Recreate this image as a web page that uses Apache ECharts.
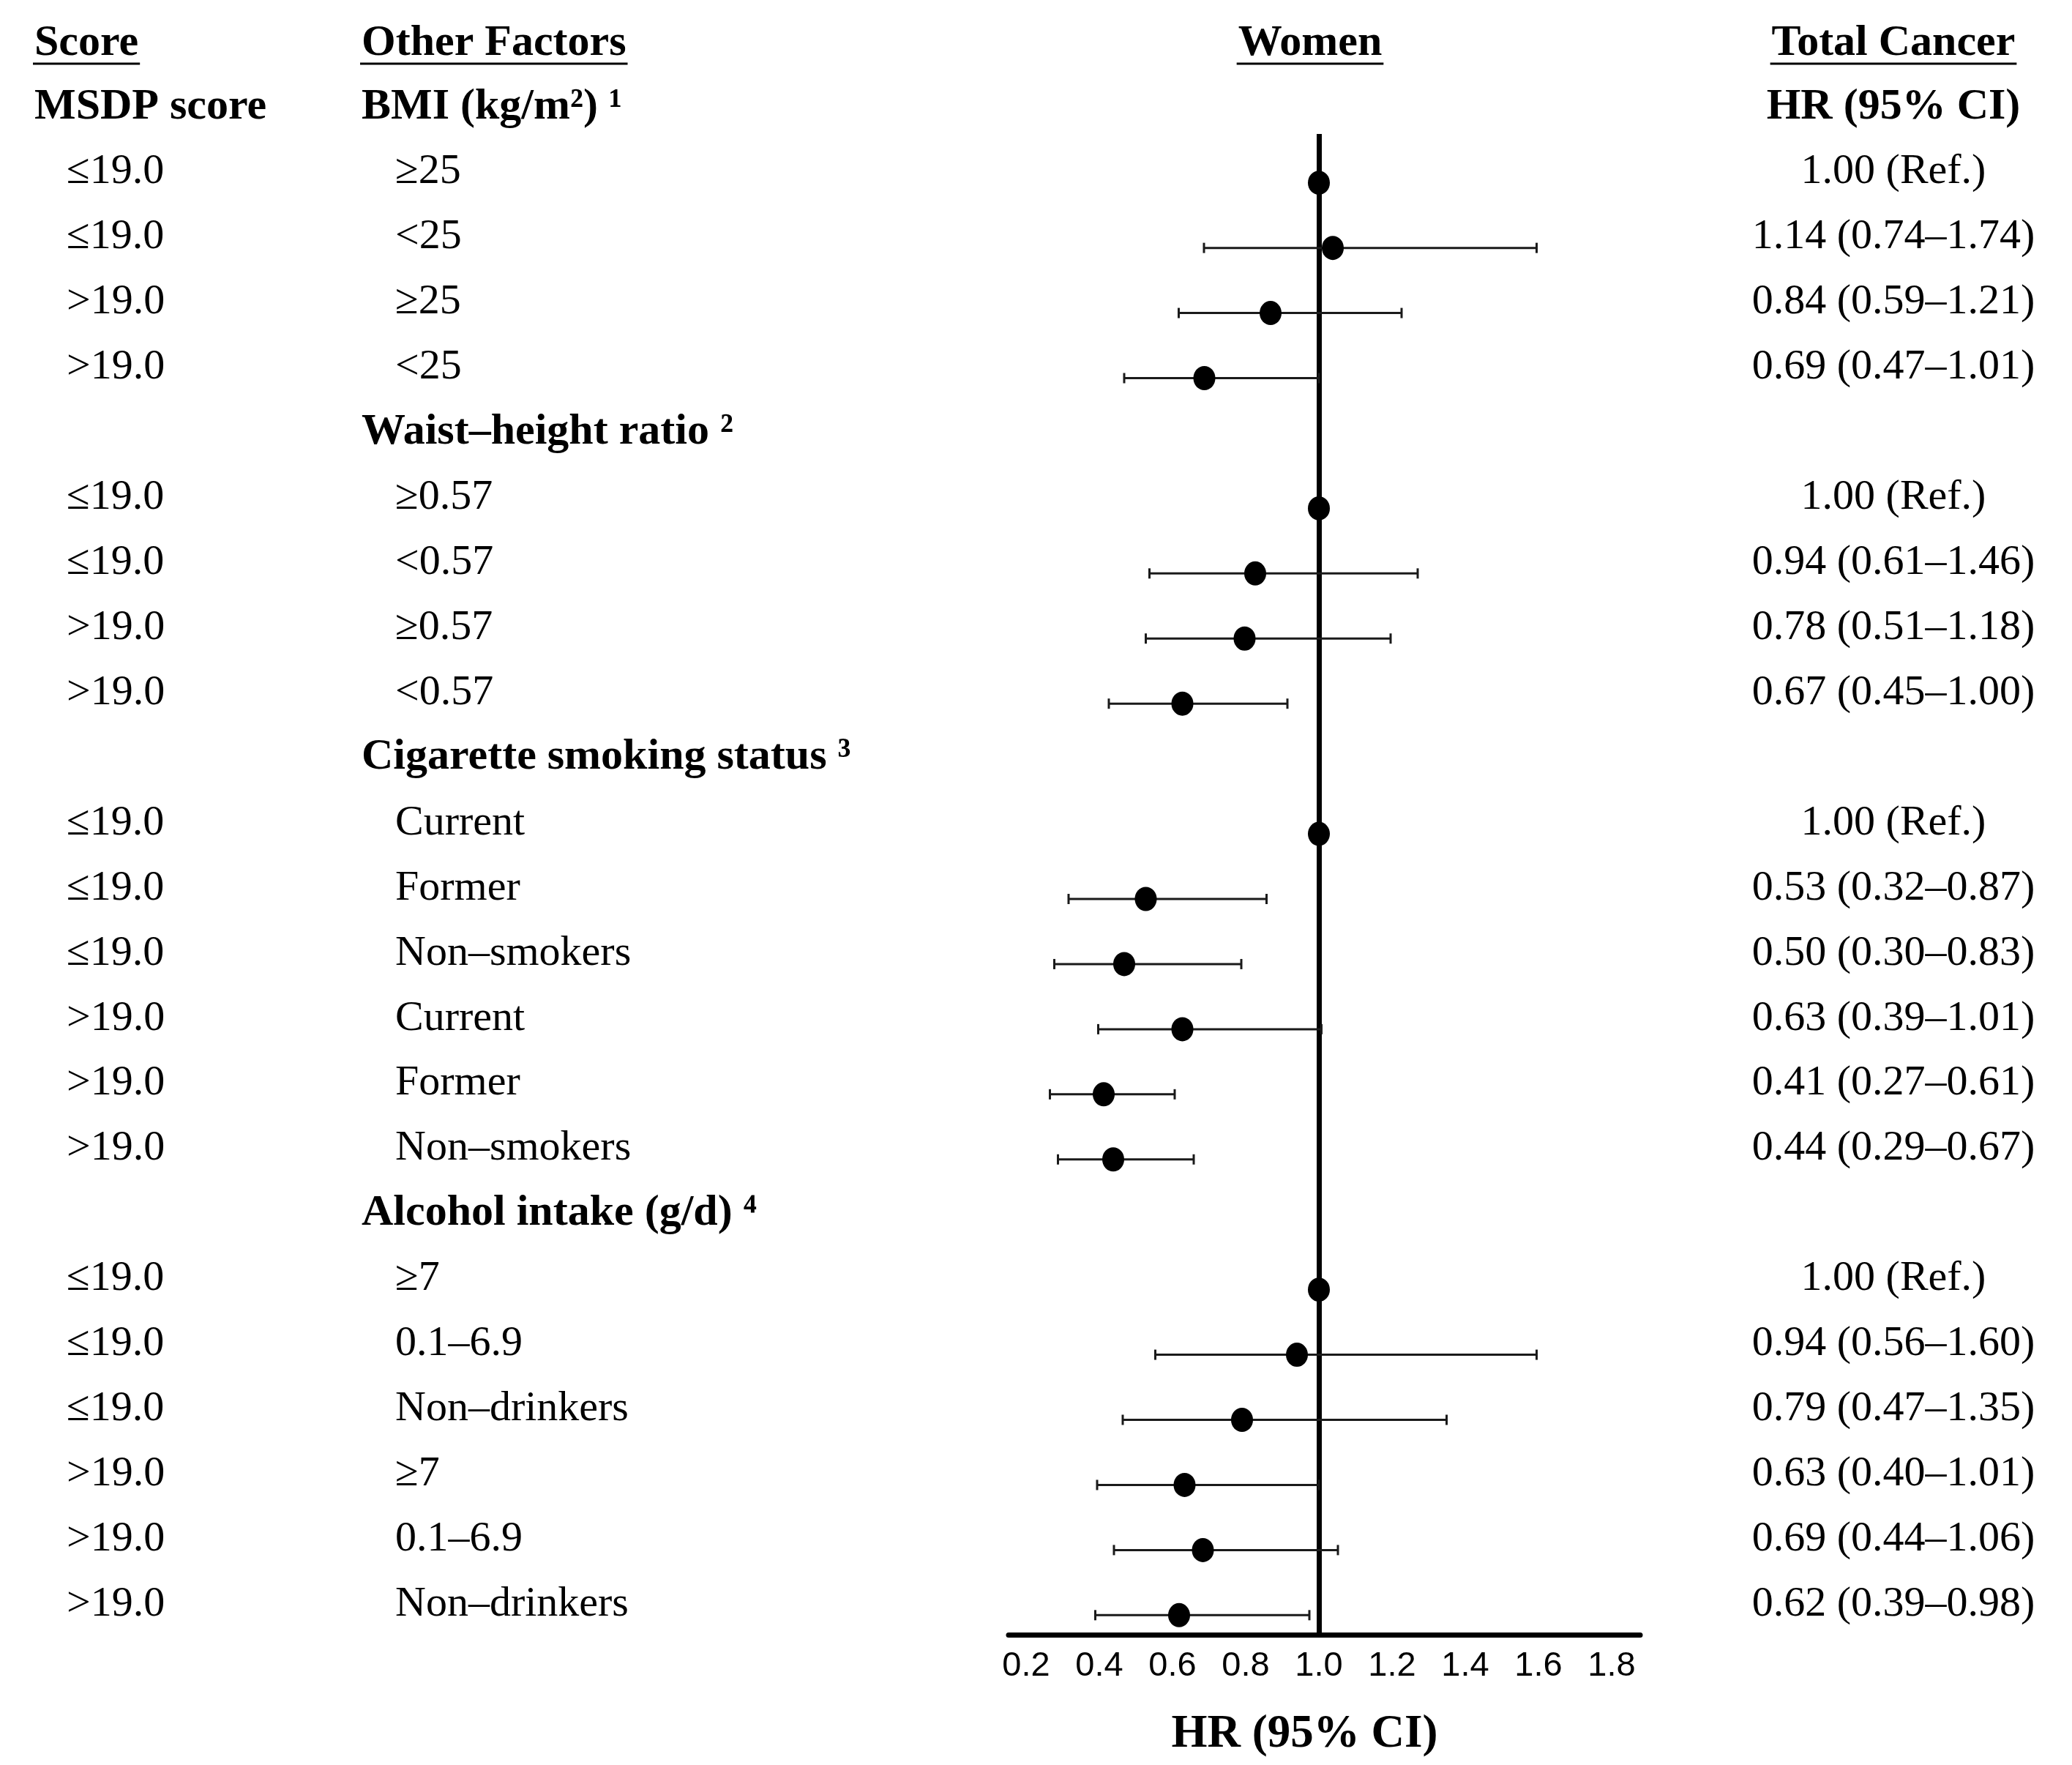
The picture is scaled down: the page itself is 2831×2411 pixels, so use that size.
<!DOCTYPE html>
<html>
<head>
<meta charset="utf-8">
<script src="https://cdn.jsdelivr.net/npm/echarts@6/dist/echarts.min.js"></script>
<style>
html,body{margin:0;padding:0;background:#fff;}
#c{width:2831px;height:2411px;}
</style>
</head>
<body>
<div id="c"></div>
<script>
// ---------- data ----------
const scoreLabels = ['≤19.0','≤19.0','>19.0','>19.0','',
  '≤19.0','≤19.0','>19.0','>19.0','',
  '≤19.0','≤19.0','≤19.0','>19.0','>19.0','>19.0','',
  '≤19.0','≤19.0','≤19.0','>19.0','>19.0','>19.0'];
const factorLabels = ['≥25','<25','≥25','<25','',
  '≥0.57','<0.57','≥0.57','<0.57','',
  'Current','Former','Non–smokers','Current','Former','Non–smokers','',
  '≥7','0.1–6.9','Non–drinkers','≥7','0.1–6.9','Non–drinkers'];
const groupRows = [-1, 4, 9, 16];
const groupNames = ['BMI (kg/m²) ¹', 'Waist–height ratio ²', 'Cigarette smoking status ³', 'Alcohol intake (g/d) ⁴'];
const hrText = ['1.00 (Ref.)','1.14 (0.74–1.74)','0.84 (0.59–1.21)','0.69 (0.47–1.01)','',
  '1.00 (Ref.)','0.94 (0.61–1.46)','0.78 (0.51–1.18)','0.67 (0.45–1.00)','',
  '1.00 (Ref.)','0.53 (0.32–0.87)','0.50 (0.30–0.83)','0.63 (0.39–1.01)','0.41 (0.27–0.61)','0.44 (0.29–0.67)','',
  '1.00 (Ref.)','0.94 (0.56–1.60)','0.79 (0.47–1.35)','0.63 (0.40–1.01)','0.69 (0.44–1.06)','0.62 (0.39–0.98)'];
// plotted positions
const hrPlot = [1.00,1.038,0.868,0.687,null,
  1.00,0.826,0.797,0.627,null,
  1.00,0.527,0.468,0.627,0.412,0.438,null,
  1.00,0.94,0.79,0.633,0.683,0.618];
const ciLow = [null,0.686,0.617,0.468,null,
  null,0.537,0.527,0.426,null,
  null,0.316,0.277,0.397,0.265,0.287,null,
  null,0.553,0.464,0.394,0.44,0.389];
const ciHigh = [null,1.595,1.226,1.0,null,
  null,1.27,1.196,0.914,null,
  null,0.857,0.788,1.007,0.606,0.658,null,
  null,1.595,1.349,1.0,1.052,0.974];
const xTicks = [0.2,0.4,0.6,0.8,1.0,1.2,1.4,1.6,1.8];
const headers = {score:'Score', factors:'Other Factors', panel:'Women', outcome:'Total Cancer',
  scoreSub:'MSDP score', outcomeSub:'HR (95% CI)', xName:'HR (95% CI)'};

// ---------- chart ----------
const SERIF = "'Liberation Serif','Times New Roman',serif";
const SANS = "'Liberation Sans',Arial,sans-serif";
const chart = echarts.init(document.getElementById('c'), null, {renderer:'canvas'});

const pointData = [], barData = [];
hrPlot.forEach((v,i)=>{ if(v!==null) pointData.push([v,i]); });
ciLow.forEach((v,i)=>{ if(v!==null) barData.push([v,ciHigh[i],i]); });

chart.setOption({
  animation:false,
  backgroundColor:'#fff',
  grid:{left:1378, top:183, width:863, height:2050, containLabel:false, outerBoundsMode:'none'},
  xAxis:{
    type:'value', min:0.152, max:1.878, position:'bottom',
    axisLine:{show:true, onZero:false, lineStyle:{color:'#000', width:7}},
    axisTick:{show:false},
    splitLine:{show:false},
    axisLabel:{customValues:xTicks, formatter:v=>v.toFixed(1), color:'#000', fontSize:47, fontFamily:SANS, margin:20},
    name:headers.xName, nameLocation:'middle', nameGap:105,
    nameTextStyle:{fontFamily:SERIF, fontWeight:'bold', fontSize:63, color:'#000', padding:[0,54,0,0]}
  },
  yAxis:{type:'value', min:-0.75, max:22.3, inverse:true, show:false},
  series:[
    {
      type:'custom', z:2, data:barData, encode:{x:[0,1], y:2},
      renderItem:(params, api)=>{
        const a = api.coord([api.value(0), api.value(2)]);
        const b = api.coord([api.value(1), api.value(2)]);
        const h = 7, st = {stroke:'#1a1a1a', lineWidth:3};
        return {type:'group', children:[
          {type:'line', shape:{x1:a[0],y1:a[1],x2:b[0],y2:b[1]}, style:st},
          {type:'line', shape:{x1:a[0],y1:a[1]-h,x2:a[0],y2:a[1]+h}, style:st},
          {type:'line', shape:{x1:b[0],y1:b[1]-h,x2:b[0],y2:b[1]+h}, style:st}
        ]};
      }
    },
    {
      type:'scatter', z:3, data:pointData, symbol:'circle', symbolSize:[30,33],
      itemStyle:{color:'#000', opacity:1},
      markLine:{silent:true, symbol:'none', label:{show:false}, z:1,
        lineStyle:{color:'#000', width:7, type:'solid', opacity:1}, data:[{xAxis:1}]}
    }
  ]
});

// ---------- text table ----------
const ctx = document.createElement('canvas').getContext('2d');
function fnt(size,bold){ return (bold?'bold ':'')+size+'px '+SERIF; }
function tw(t,f){ ctx.font=f; return ctx.measureText(t).width; }
const els = [];
function txt(t,x,baseline,size,bold,align){
  const f = fnt(size,bold);
  els.push({type:'text', silent:true, style:{text:t, x:x, y:baseline-0.3375*size, font:f, fill:'#000',
    align:align, textAlign:align, verticalAlign:'middle', textVerticalAlign:'middle'}});
  return f;
}
function underlined(t,x,baseline,size,align){
  const f = txt(t,x,baseline,size,true,align);
  const w = tw(t,f);
  const x1 = align==='center' ? x-w/2 : x;
  els.push({type:'line', silent:true, shape:{x1:x1-2,y1:baseline+7,x2:x1+w+2,y2:baseline+7}, style:{stroke:'#000', lineWidth:3}});
}
const yPix = r => chart.convertToPixel({yAxisIndex:0}, r);
const X_SCORE_H = 47, X_SCORE = 91, X_FACT_H = 494, X_FACT = 540, X_PANEL = 1790, X_HR = 2587;
const ROW_SHIFT = 5;

underlined(headers.score, X_SCORE_H, 80, 60, 'left');
underlined(headers.factors, X_FACT_H, 80, 60, 'left');
underlined(headers.panel, X_PANEL, 80, 60, 'center');
underlined(headers.outcome, X_HR, 80, 60, 'center');

const subY = yPix(-1) + 6;
txt(headers.scoreSub, X_SCORE_H, subY, 60, true, 'left');
txt(headers.outcomeSub, X_HR, subY, 60, true, 'center');
groupRows.forEach((r,i)=>{
  const y = r===-1 ? subY : yPix(r) + ROW_SHIFT;
  txt(groupNames[i], X_FACT_H, y, 60, true, 'left');
});
scoreLabels.forEach((s,i)=>{
  if(!s) return;
  const y = yPix(i) + ROW_SHIFT;
  txt(s, X_SCORE, y, 58, false, 'left');
  txt(factorLabels[i], X_FACT, y, 58, false, 'left');
  txt(hrText[i], X_HR, y, 58, false, 'center');
});
chart.setOption({graphic:{elements:els}});
</script>
</body>
</html>
